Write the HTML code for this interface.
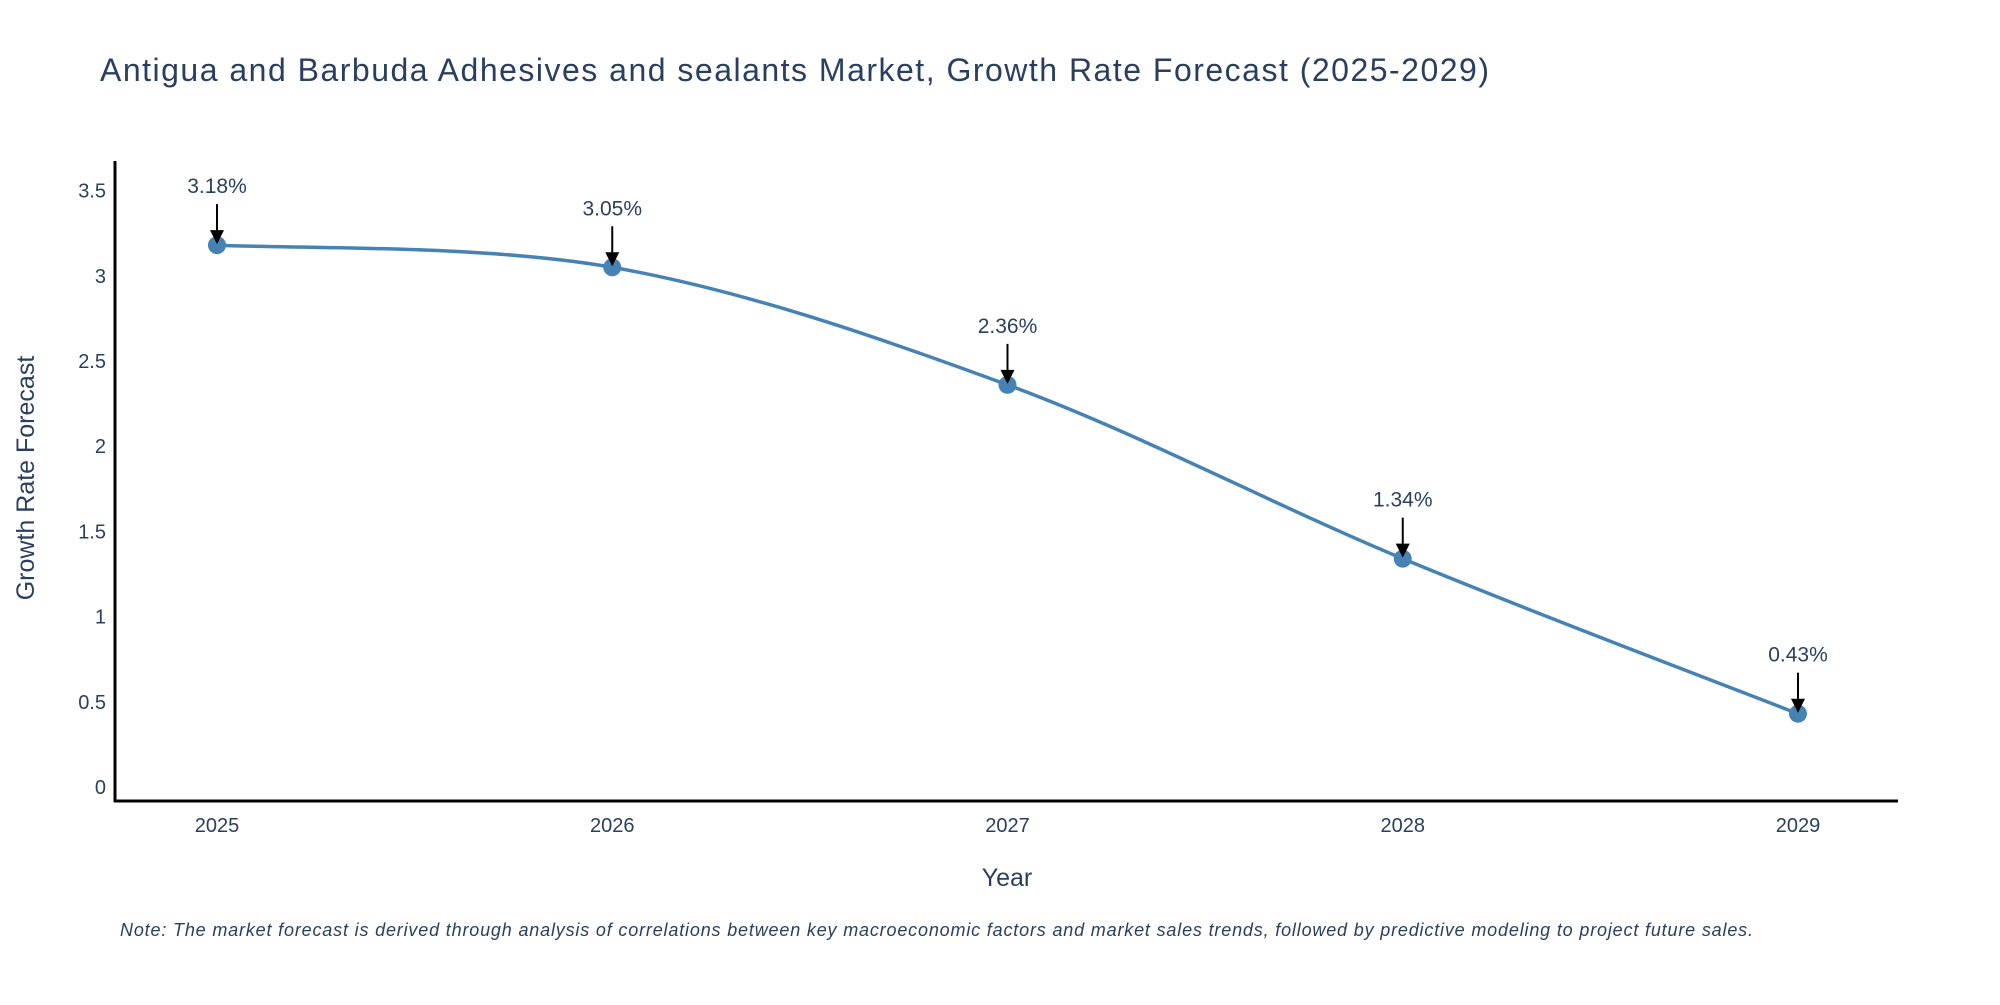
<!DOCTYPE html>
<html><head><meta charset="utf-8"><style>
body{margin:0;background:#fff;}
svg text{font-family:"Liberation Sans","DejaVu Sans",sans-serif;fill:#2a3f5f;}
</style></head><body>
<svg width="2000" height="1000" xmlns="http://www.w3.org/2000/svg">
<text x="100" y="81" font-size="32" textLength="1389">Antigua and Barbuda Adhesives and sealants Market, Growth Rate Forecast (2025-2029)</text>
<g id="yticks"></g><g id="xticks"></g>
<line x1="115" y1="161" x2="115" y2="802" stroke="#000" stroke-width="3"/>
<line x1="114" y1="801" x2="1898" y2="801" stroke="#000" stroke-width="3"/>
<path id="curve" fill="none" stroke="#4682b4" stroke-width="3.5"/>
<g id="marks"></g>
<text x="1007" y="886" font-size="25" text-anchor="middle">Year</text>
<text x="34" y="478" font-size="25" text-anchor="middle" transform="rotate(-90 34 478)">Growth Rate Forecast</text>
<text x="120" y="936" font-size="18" font-style="italic" textLength="1633">Note: The market forecast is derived through analysis of correlations between key macroeconomic factors and market sales trends, followed by predictive modeling to project future sales.</text>
</svg>
<script>
const years=["2025","2026","2027","2028","2029"];
const values=[3.18,3.05,2.36,1.34,0.43];
const yTicks=[0,0.5,1,1.5,2,2.5,3,3.5];
const yTickLabels=["0","0.5","1","1.5","2","2.5","3","3.5"];
const NS="http://www.w3.org/2000/svg";
function xs(i){return 217+i*(1798-217)/(years.length-1);}
function ys(v){return 787-v*170.4;}
function mk(t,a,p){const e=document.createElementNS(NS,t);for(const k in a)e.setAttribute(k,a[k]);p.appendChild(e);return e;}
const yt=document.getElementById('yticks');
yTicks.forEach((v,i)=>{const t=mk('text',{x:106,y:ys(v)+7,'font-size':20,'text-anchor':'end'},yt);t.textContent=yTickLabels[i];

});
const xt=document.getElementById('xticks');
years.forEach((y,i)=>{const t=mk('text',{x:xs(i),y:832,'font-size':20,'text-anchor':'middle'},xt);t.textContent=y;

});
const P=values.map((v,i)=>[xs(i),ys(v)]);
let d="M"+P[0][0]+","+P[0][1];
for(let i=0;i<P.length-1;i++){const p0=P[Math.max(0,i-1)],p1=P[i],p2=P[i+1],p3=P[Math.min(P.length-1,i+2)];const s=1/6;
d+=" C"+(p1[0]+(p2[0]-p0[0])*s)+","+(p1[1]+(p2[1]-p0[1])*s)+" "+(p2[0]-(p3[0]-p1[0])*s)+","+(p2[1]-(p3[1]-p1[1])*s)+" "+p2[0]+","+p2[1];}
document.getElementById('curve').setAttribute('d',d);
const g=document.getElementById('marks');
P.forEach((p,i)=>{
const c=mk('circle',{cx:p[0],cy:p[1],r:9,fill:'#4682b4'},g);


const l=mk('line',{x1:p[0],y1:p[1]-41,x2:p[0],y2:p[1]-12,stroke:'#000','stroke-width':2},g);


const h=mk('polygon',{points:(p[0]-7)+","+(p[1]-15)+" "+(p[0]+7)+","+(p[1]-15)+" "+p[0]+","+(p[1]-1)},g);


const t=mk('text',{x:p[0],y:p[1]-52,'font-size':21,'text-anchor':'middle'},g);
t.textContent=values[i].toFixed(2)+"%";

});
</script>
</body></html>
